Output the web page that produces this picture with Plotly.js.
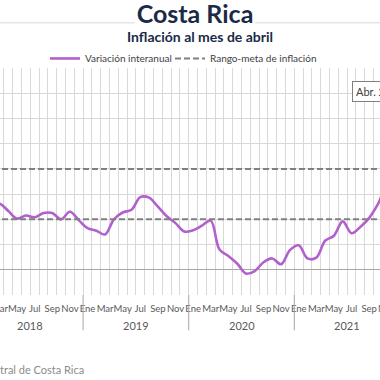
<!DOCTYPE html>
<html>
<head>
<meta charset="utf-8">
<script src="https://cdn.plot.ly/plotly-3.0.1.min.js"></script>
<style>
html,body{margin:0;padding:0;width:380px;height:380px;overflow:hidden;background:#fff;}
#chart{position:absolute;left:-155px;top:0;width:700px;height:380px;}
</style>
</head>
<body>
<div id="chart"></div>
<script>
// Months from Ene 2018 to Abr 2022 (index 0 = Ene 2018)
const monthNames = ['Ene','Feb','Mar','Abr','May','Jun','Jul','Ago','Sep','Oct','Nov','Dic'];
const years = ['2018','2019','2020','2021','2022'];
// Interannual inflation (%)
const inflation2018 = [2.58, 2.55, 2.62, 2.33, 2.03, 2.15, 2.08, 2.25, 2.25, 2.00, 2.30, 1.97];
const inflation2019 = [1.65, 1.55, 1.40, 2.00, 2.27, 2.38, 2.88, 2.86, 2.50, 2.12, 1.85, 1.52];
const inflation2020 = [1.57, 1.75, 1.95, 0.80, 0.55, 0.25, -0.15, -0.05, 0.30, 0.45, 0.22, 0.78];
const inflation2021 = [0.97, 0.45, 0.48, 1.15, 1.35, 1.92, 1.45, 1.70, 2.05, 2.60, 3.30, 3.30];
const inflation2022 = [3.46, 4.92, 5.79, 6.42];
const targetLow = 2;
const targetHigh = 4;
const tickMonths = ['Ene','Mar','May','Jul','Sep','Nov'];

const values = [].concat(inflation2018, inflation2019, inflation2020, inflation2021, inflation2022);
const xIdx = values.map((v, i) => i);
const labels = values.map((v, i) => monthNames[i % 12] + ' ' + years[Math.floor(i / 12)]);

const xRange = [-11.01, 59.44];

const tickvals = [], ticktext = [];
for (let i = 0; i < values.length; i++) {
  const m = monthNames[i % 12];
  if (tickMonths.indexOf(m) >= 0) { tickvals.push(i); ticktext.push(m); }
}

const traces = [
  {
    x: xIdx, y: values, text: labels, type: 'scatter', mode: 'lines',
    name: 'Variación interanual', legend: 'legend',
    line: {color: '#B160CC', width: 2.6, shape: 'spline', smoothing: 1},
    hovertemplate: '%{text}: %{y:.2f}%<extra></extra>'
  },
  {
    x: xRange, y: [targetLow, targetLow], type: 'scatter', mode: 'lines',
    name: 'Rango-meta de inflación', legend: 'legend2',
    line: {color: '#808080', width: 2, dash: '6px,3px'}
  },
  {
    x: xRange, y: [targetHigh, targetHigh], type: 'scatter', mode: 'lines',
    name: 'Rango-meta de inflación', showlegend: false, legend: 'legend2',
    line: {color: '#808080', width: 2, dash: '6px,3px'}
  }
];

const fontFam = 'Lato, "Open Sans", sans-serif';
const annotations = [
  {text: '<b>Inflación al mes de abril</b>', xref: 'paper', yref: 'paper', x: 0.508, y: 1.139,
   xanchor: 'center', yanchor: 'middle', showarrow: false,
   font: {family: fontFam, size: 14, color: '#1B2A47'}},
  {text: 'Fuente: Banco Central de Costa Rica', xref: 'paper', yref: 'paper', x: 0.324, y: -0.328,
   xanchor: 'right', yanchor: 'middle', showarrow: false,
   font: {family: fontFam, size: 11, color: '#8c8c8c'}},
  {text: 'Abr. 2022: 6,42%', xref: 'x', yref: 'y', x: 42.06, y: 7.06,
   xanchor: 'left', yanchor: 'middle', showarrow: false, bgcolor: '#ffffff',
   bordercolor: '#7f7f7f', borderwidth: 1, borderpad: 3,
   font: {family: fontFam, size: 11, color: '#404040'}}
];
const shapes = [
  {type: 'line', xref: 'paper', yref: 'paper', x0: -0.07, x1: 0.403, y0: 1.199, y1: 1.199,
   line: {color: '#d9d9d9', width: 1}},
  {type: 'line', xref: 'paper', yref: 'paper', x0: 0.597, x1: 1.07, y0: 1.199, y1: 1.199,
   line: {color: '#d9d9d9', width: 1}}
];
years.forEach((yr, k) => {
  const start = k * 12;
  const n = Math.min(12, values.length - start);
  annotations.push({text: yr, xref: 'x', yref: 'paper', x: start + (n - 1) / 2, y: -0.134,
    xanchor: 'center', yanchor: 'middle', showarrow: false,
    font: {family: fontFam, size: 11, color: '#595959'}});
  shapes.push({type: 'line', xref: 'x', yref: 'paper', x0: start - 0.5, x1: start - 0.5,
    y0: 0, y1: -0.156, line: {color: '#a6a6a6', width: 1}});
});

const legendFont = {family: fontFam, size: 10, color: '#404040'};
const layout = {
  width: 700, height: 380,
  margin: {l: 40, r: 40, t: 68.4, b: 85.25},
  paper_bgcolor: '#ffffff', plot_bgcolor: '#ffffff',
  title: {text: '<b>Costa Rica</b>', xref: 'container', yref: 'container', x: 0.5, y: 0.963,
    xanchor: 'center', yanchor: 'middle',
    font: {family: fontFam, size: 25, color: '#1B2A47'}},
  showlegend: true,
  legend: {orientation: 'h', x: 0.2581, xanchor: 'left', y: 1.042, yanchor: 'middle',
    font: legendFont, itemwidth: 30, bgcolor: 'rgba(0,0,0,0)'},
  legend2: {orientation: 'h', x: 0.4597, xanchor: 'left', y: 1.042, yanchor: 'middle',
    font: legendFont, itemwidth: 30, bgcolor: 'rgba(0,0,0,0)'},
  xaxis: {range: xRange, tickmode: 'array', tickvals: tickvals, ticktext: ticktext, tickangle: 0,
    showgrid: false, zeroline: false, ticks: '', showline: false, automargin: false,
    ticklabelstandoff: 6,
    tickfont: {family: fontFam, size: 9.5, color: '#595959'},
    minor: {tickmode: 'linear', tick0: -0.5, dtick: 1, showgrid: true, gridcolor: '#d9d9d9', gridwidth: 1}},
  yaxis: {range: [-1, 8], dtick: 1, showgrid: true, gridcolor: '#d9d9d9', gridwidth: 1,
    zeroline: true, zerolinecolor: '#a6a6a6', zerolinewidth: 1, showticklabels: false, ticks: ''},
  annotations: annotations,
  shapes: shapes,
  hovermode: 'closest'
};

Plotly.newPlot('chart', traces, layout, {displayModeBar: false, staticPlot: true});
</script>
</body>
</html>
